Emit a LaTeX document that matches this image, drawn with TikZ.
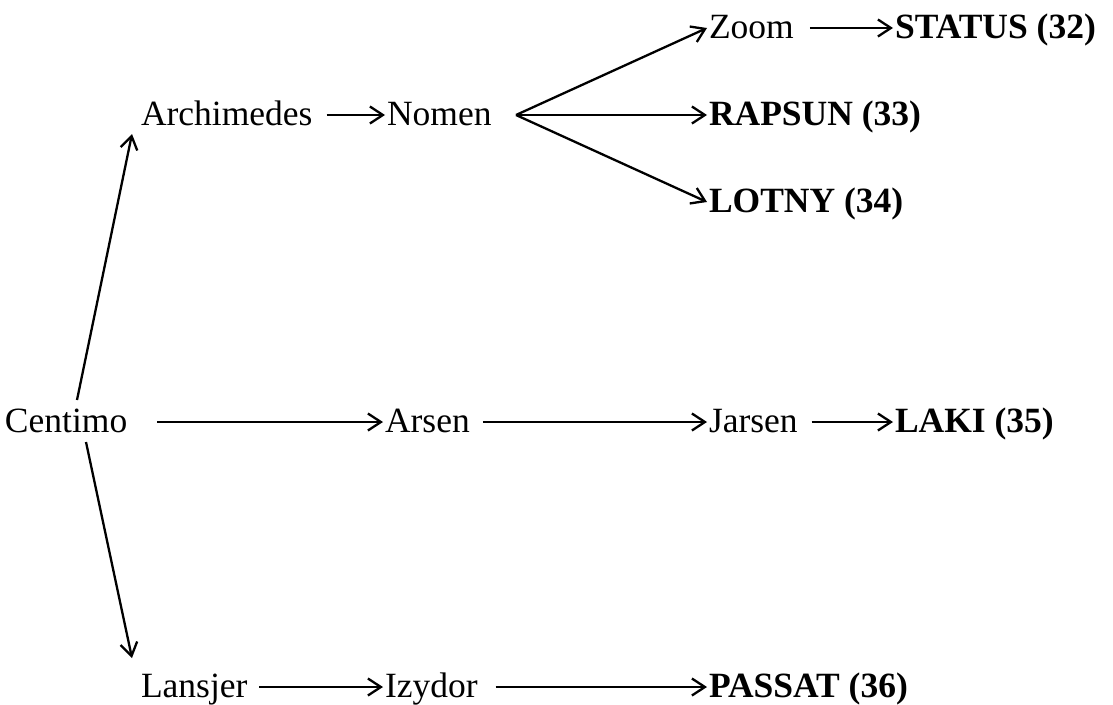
\documentclass[tikz,border=0pt]{standalone}
\usepackage{fontspec}
\setmainfont{Liberation Serif}
\usetikzlibrary{arrows.meta}
\tikzset{
  lbl/.style={inner sep=0pt, outer sep=0pt, anchor=base west, font=\fontsize{35.5}{40}\selectfont},
  blbl/.style={lbl, font=\fontsize{35.5}{40}\selectfont\bfseries},
  conn/.style={line width=2.3pt, -{Straight Barb[length=13pt, width=17pt, line width=2.3pt]}},
}
\begin{document}
\begin{tikzpicture}[x=1pt,y=-1pt]
\useasboundingbox (0,0) rectangle (1113,704);
% nodes
\node[lbl]  (cent) at (5,432)   {Centimo};
\node[lbl]  (arch) at (141,125) {Archimedes};
\node[lbl]  (nom)  at (387,125) {Nomen};
\node[lbl]  (zoom) at (709,38)  {Zoom};
\node[blbl] (stat) at (895,38)  {STATUS (32)};
\node[blbl] (rap)  at (709,125) {RAPSUN (33)};
\node[blbl] (lot)  at (709,212) {LOTNY (34)};
\node[lbl]  (ars)  at (385,432) {Arsen};
\node[lbl]  (jar)  at (709,432) {Jarsen};
\node[blbl] (laki) at (895,432) {LAKI (35)};
\node[lbl]  (lan)  at (141,697) {Lansjer};
\node[lbl]  (izy)  at (385,697) {Izydor};
\node[blbl] (pas)  at (709,697) {PASSAT (36)};
% coordinates for connector ends
\coordinate (centup) at (77,400);
\coordinate (centdn) at (86,442);
\coordinate (archin) at (132,134);
\coordinate (lanin)  at (132,658);
\coordinate (nomout) at (516,115);
% connectors
\draw[conn] (centup) -- (archin);
\draw[conn] (centdn) -- (lanin);
\draw[conn] ([xshift=30pt,yshift=10pt]cent.base east) -- ([xshift=-2pt,yshift=10pt]ars.base west);
\draw[conn] ([xshift=13pt,yshift=10pt]ars.base east) -- ([xshift=-2pt,yshift=10pt]jar.base west);
\draw[conn] ([xshift=14pt,yshift=10pt]jar.base east) -- ([xshift=-2pt,yshift=10pt]laki.base west);
\draw[conn] ([xshift=14pt,yshift=10pt]arch.base east) -- ([xshift=-2pt,yshift=10pt]nom.base west);
\draw[conn] (nomout) -- ([xshift=-2pt,yshift=10pt]zoom.base west);
\draw[conn] (nomout) -- ([xshift=-2pt,yshift=10pt]rap.base west);
\draw[conn] (nomout) -- ([xshift=-2pt,yshift=10pt]lot.base west);
\draw[conn] ([xshift=16pt,yshift=10pt]zoom.base east) -- ([xshift=-2pt,yshift=10pt]stat.base west);
\draw[conn] ([xshift=12pt,yshift=10pt]lan.base east) -- ([xshift=-2pt,yshift=10pt]izy.base west);
\draw[conn] ([xshift=18pt,yshift=10pt]izy.base east) -- ([xshift=-2pt,yshift=10pt]pas.base west);
\end{tikzpicture}
\end{document}
